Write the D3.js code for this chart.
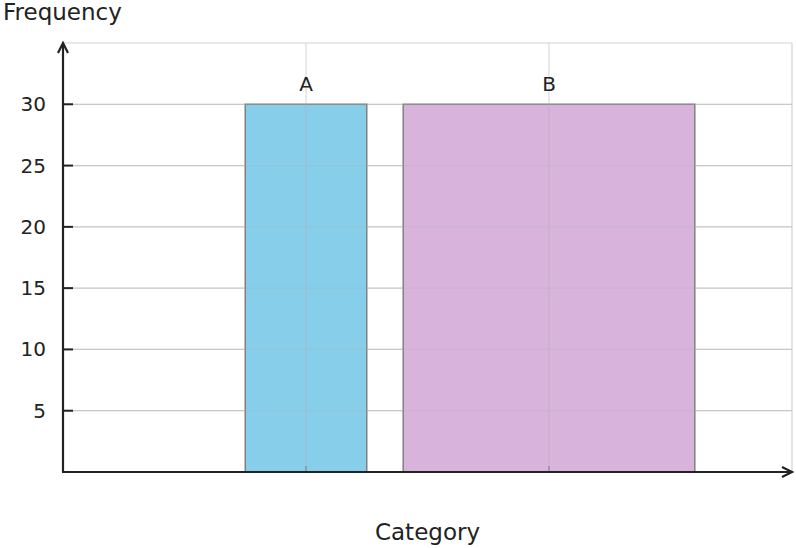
<!DOCTYPE html>
<html><head><meta charset="utf-8">
<script src="https://cdn.jsdelivr.net/npm/d3@7"></script>
<style>body{margin:0;background:#fff;font-family:"DejaVu Sans",sans-serif;}</style>
</head><body><svg id="c" width="796" height="548"></svg>
<script>
const categories = ["A", "B"];
const positions = [1, 2];
const widths = [0.5, 1.2];
const values = [30, 30];
const colors = ["#87CEEB", "#D8B4DC"];
const yTicks = [5, 10, 15, 20, 25, 30];

const svg = d3.select("#c");
const L = 63, R = 792, T = 43, B = 472;
const x = d3.scaleLinear().domain([0, 3]).range([L, R]);
const y = d3.scaleLinear().domain([0, 35]).range([B, T]);
const font = "DejaVu Sans, sans-serif";

// grid
svg.append("g").selectAll("line").data(yTicks.concat([35])).join("line")
  .attr("x1", L).attr("x2", R).attr("y1", d => y(d)).attr("y2", d => y(d))
  .attr("stroke", "#d3d3d3").attr("stroke-width", 1.2);
svg.append("line").attr("x1", R).attr("x2", R).attr("y1", T).attr("y2", B)
  .attr("stroke", "#d3d3d3").attr("stroke-width", 1.2);

// bars
const data = categories.map((c, i) => ({c, p: positions[i], w: widths[i], v: values[i], col: colors[i]}));
svg.append("g").selectAll("rect").data(data).join("rect")
  .attr("x", d => x(d.p - d.w / 2)).attr("width", d => x(d.p + d.w / 2) - x(d.p - d.w / 2))
  .attr("y", d => y(d.v)).attr("height", d => y(0) - y(d.v))
  .attr("fill", d => d.col).attr("stroke", "#808080").attr("stroke-width", 1.5);

// grid on top (faint)
svg.append("g").selectAll("line").data(yTicks).join("line")
  .attr("x1", L).attr("x2", R).attr("y1", d => y(d)).attr("y2", d => y(d))
  .attr("stroke", "#b0b0b0").attr("stroke-opacity", 0.3).attr("stroke-width", 1.2);
svg.append("g").selectAll("line").data(positions).join("line")
  .attr("x1", d => x(d)).attr("x2", d => x(d)).attr("y1", T).attr("y2", B)
  .attr("stroke", "#b0b0b0").attr("stroke-opacity", 0.45).attr("stroke-width", 1.2);
// x ticks
svg.append("g").selectAll("line").data(positions).join("line")
  .attr("x1", d => x(d)).attr("x2", d => x(d)).attr("y1", B).attr("y2", B - 6)
  .attr("stroke", "#555").attr("stroke-opacity", 0.4).attr("stroke-width", 1.5);

// category labels
svg.append("g").selectAll("text").data(data).join("text")
  .attr("x", d => x(d.p)).attr("y", d => y(d.v) - 13)
  .attr("text-anchor", "middle").attr("font-family", font).attr("font-size", 20)
  .attr("fill", "#222").text(d => d.c);

// y axis ticks & labels
svg.append("g").selectAll("line").data(yTicks).join("line")
  .attr("x1", L).attr("x2", L + 10).attr("y1", d => y(d)).attr("y2", d => y(d))
  .attr("stroke", "#222").attr("stroke-width", 2);
svg.append("g").selectAll("text").data(yTicks).join("text")
  .attr("x", 46).attr("y", d => y(d)).attr("dy", "0.35em")
  .attr("text-anchor", "end").attr("font-family", font).attr("font-size", 20)
  .attr("fill", "#222").text(d => d);

// axes with arrows
svg.append("line").attr("x1", L).attr("x2", L).attr("y1", B).attr("y2", T + 1)
  .attr("stroke", "#222").attr("stroke-width", 2.2);
svg.append("path").attr("d", `M${L-5},${T+10}L${L},${T}L${L+5},${T+10}`)
  .attr("fill", "none").attr("stroke", "#222").attr("stroke-width", 2.2);
svg.append("line").attr("x1", L - 1).attr("x2", R - 1).attr("y1", B).attr("y2", B)
  .attr("stroke", "#222").attr("stroke-width", 2.2);
svg.append("path").attr("d", `M${R-10},${B-5}L${R},${B}L${R-10},${B+5}`)
  .attr("fill", "none").attr("stroke", "#222").attr("stroke-width", 2.2);

// titles
svg.append("text").attr("x", 3).attr("y", 20).attr("font-family", font).attr("font-size", 23)
  .attr("fill", "#222").text("Frequency");
svg.append("text").attr("x", (L + R) / 2).attr("y", 540).attr("text-anchor", "middle")
  .attr("font-family", font).attr("font-size", 23).attr("fill", "#222").text("Category");
</script></body></html>
